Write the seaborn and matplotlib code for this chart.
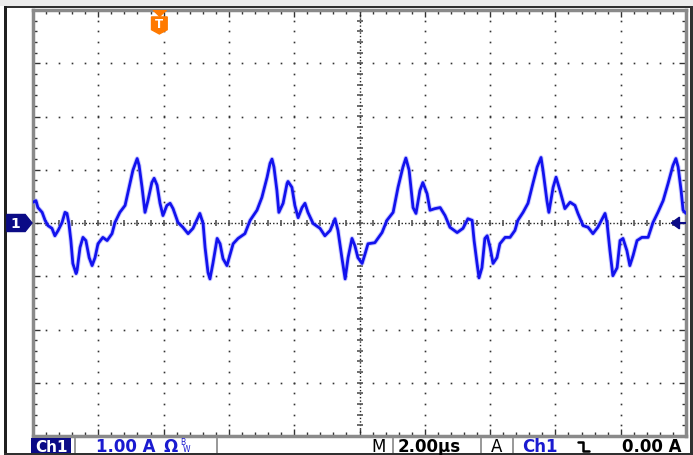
import numpy as np
import matplotlib.pyplot as plt
import seaborn as sns
from matplotlib.patches import Polygon, Rectangle
from matplotlib.ticker import MultipleLocator

sns.set_style("white")
plt.rcParams['font.family'] = ['DejaVu Sans']

# trace (time in us, current in A)
time_us = [-10.00, -9.91, -9.85, -9.72, -9.63, -9.54, -9.42, -9.33, -9.23, -9.11,
           -9.02, -8.96, -8.90, -8.84, -8.78, -8.68, -8.65, -8.56, -8.47, -8.38,
           -8.28, -8.19, -8.10, -8.01, -7.86, -7.73, -7.58, -7.49, -7.34, -7.18,
           -7.03, -6.94, -6.81, -6.75, -6.66, -6.57, -6.48, -6.36, -6.29, -6.20,
           -6.11, -6.02, -5.90, -5.80, -5.71, -5.56, -5.41, -5.25, -5.10, -4.89,
           -4.79, -4.73, -4.64, -4.58, -4.49, -4.36, -4.27, -4.18, -4.06, -3.87,
           -3.72, -3.51, -3.35, -3.14, -2.99, -2.83, -2.74, -2.68, -2.62, -2.53,
           -2.47, -2.34, -2.22, -2.19, -2.07, -1.98, -1.88, -1.76, -1.67, -1.58,
           -1.42, -1.21, -1.06, -0.90, -0.75, -0.66, -0.54, -0.44, -0.35, -0.23,
           -0.14, -0.05, 0.08, 0.17, 0.26, 0.47, 0.69, 0.84, 1.03, 1.18,
           1.33, 1.42, 1.52, 1.64, 1.73, 1.85, 1.94, 2.07, 2.16, 2.31,
           2.47, 2.62, 2.77, 2.99, 3.17, 3.32, 3.45, 3.51, 3.60, 3.66,
           3.75, 3.84, 3.91, 4.00, 4.09, 4.21, 4.30, 4.46, 4.61, 4.76,
           4.85, 5.01, 5.16, 5.31, 5.44, 5.56, 5.62, 5.74, 5.80, 5.93,
           6.02, 6.14, 6.29, 6.45, 6.60, 6.69, 6.85, 7.00, 7.15, 7.30,
           7.52, 7.58, 7.67, 7.76, 7.89, 7.98, 8.07, 8.19, 8.28, 8.38,
           8.50, 8.65, 8.84, 8.99, 9.14, 9.30, 9.45, 9.60, 9.69, 9.76,
           9.85, 9.91, 10.00]
current_a = [0.39, 0.42, 0.29, 0.20, 0.05, -0.05, -0.10, -0.24, -0.14, 0.01,
             0.20, 0.18, -0.01, -0.33, -0.76, -0.95, -0.89, -0.46, -0.27, -0.33,
             -0.65, -0.80, -0.65, -0.39, -0.27, -0.33, -0.20, 0.01, 0.20, 0.33,
             0.74, 0.99, 1.21, 1.08, 0.67, 0.20, 0.42, 0.76, 0.84, 0.71,
             0.37, 0.14, 0.33, 0.37, 0.27, 0.01, -0.08, -0.20, -0.10, 0.18,
             -0.01, -0.46, -0.93, -1.05, -0.76, -0.29, -0.39, -0.67, -0.80, -0.39,
             -0.29, -0.20, 0.05, 0.24, 0.48, 0.86, 1.12, 1.20, 1.05, 0.61,
             0.20, 0.37, 0.74, 0.78, 0.67, 0.33, 0.10, 0.29, 0.37, 0.20,
             -0.01, -0.10, -0.24, -0.14, 0.08, -0.14, -0.65, -1.05, -0.65, -0.29,
             -0.43, -0.65, -0.76, -0.58, -0.39, -0.37, -0.18, 0.05, 0.20, 0.67,
             1.05, 1.22, 0.99, 0.29, 0.18, 0.61, 0.76, 0.55, 0.24, 0.27,
             0.29, 0.14, -0.08, -0.18, -0.10, 0.08, 0.05, -0.33, -0.76, -1.03,
             -0.84, -0.29, -0.24, -0.46, -0.76, -0.65, -0.39, -0.27, -0.27, -0.14,
             0.05, 0.20, 0.37, 0.74, 1.05, 1.23, 0.99, 0.42, 0.20, 0.67,
             0.86, 0.61, 0.27, 0.39, 0.33, 0.18, -0.05, -0.08, -0.20, -0.08,
             0.18, 0.01, -0.52, -0.99, -0.84, -0.33, -0.29, -0.52, -0.80, -0.61,
             -0.33, -0.27, -0.27, 0.01, 0.20, 0.42, 0.74, 1.08, 1.21, 1.05,
             0.61, 0.24, 0.18]

# scope settings shown on screen
time_per_div = 2.0
amps_per_div = 1.0
trigger_time = -6.17
trigger_level = 0.0
status_texts = ["Ch1", "1.00 A", "M", "2.00\u00b5s", "A", "Ch1", "0.00 A"]

W, H = 693, 455
fig = plt.figure(figsize=(W / 100, H / 100), dpi=100)
fig.patch.set_facecolor('white')


def fx(px):
    return px / W


def fy(py):
    return 1 - py / H


def frect(x0, y0, x1, y1, color, z=0):
    fig.add_artist(Rectangle((fx(x0), fy(y1)), (x1 - x0) / W, (y1 - y0) / H,
                             transform=fig.transFigure, color=color, lw=0, zorder=z))


# window frame around the screen
frect(0, 0, W, 6, '#ececec')
frect(4, 6, 690, 8, '#303030')
frect(4, 6, 7, H, '#202020')
frect(690, 6, 693, H, '#303030')

ax = fig.add_axes([fx(33), fy(436), (686 - 33) / W, (436 - 10) / H])
ax.set_xlim(-5 * time_per_div, 5 * time_per_div)
ax.set_ylim(-4 * amps_per_div, 4 * amps_per_div)
ax.set_facecolor('white')

for s in ax.spines.values():
    s.set_color('#8a8a8a')
    s.set_linewidth(2.5)
ax.xaxis.set_major_locator(MultipleLocator(time_per_div))
ax.xaxis.set_minor_locator(MultipleLocator(time_per_div / 5))
ax.yaxis.set_major_locator(MultipleLocator(amps_per_div))
ax.yaxis.set_minor_locator(MultipleLocator(amps_per_div / 5))
ax.tick_params(which='both', direction='in', top=True, right=True, bottom=True, left=True,
               labelbottom=False, labelleft=False, color='#333333', width=1)
ax.tick_params(which='major', length=5)
ax.tick_params(which='minor', length=3)
ax.set_xlabel('')
ax.set_ylabel('')

# graticule dots
xs_fine = np.arange(-10, 10.001, time_per_div / 5)
ys_fine = np.arange(-4, 4.001, amps_per_div / 5)
for gx in np.arange(-8, 8.01, time_per_div):
    if abs(gx) < 1e-9:
        continue
    ax.plot(np.full_like(ys_fine, gx), ys_fine, ls='none', marker='s', ms=1.2,
            mew=0, color='#333333', zorder=1)
for gy in np.arange(-3, 3.01, amps_per_div):
    if abs(gy) < 1e-9:
        continue
    ax.plot(xs_fine, np.full_like(xs_fine, gy), ls='none', marker='s', ms=1.2,
            mew=0, color='#333333', zorder=1)

# centre cross
ax.axhline(0, color='#222222', lw=1.0, ls=(0, (1, 1.5)), zorder=1)
ax.axvline(0, color='#222222', lw=1.0, ls=(0, (1, 1.5)), zorder=1)
ax.plot(xs_fine, np.zeros_like(xs_fine), ls='none', marker='|', ms=5, mew=1.2,
        color='#555555', zorder=1)
ax.plot(np.zeros_like(ys_fine), ys_fine, ls='none', marker='_', ms=5, mew=1.2,
        color='#555555', zorder=1)

# the trace
sns.lineplot(x=time_us, y=current_a, ax=ax, color='#8c8cff', lw=3.4, alpha=0.45,
             estimator=None, sort=False, legend=False, zorder=3)
sns.lineplot(x=time_us, y=current_a, ax=ax, color='#1212ee', lw=2.0,
             estimator=None, sort=False, legend=False, zorder=4)

navy = '#0b0b86'
# channel 1 ground marker
ax.add_patch(Polygon([(-10.80, 0.16), (-10.24, 0.16), (-10.03, 0.0), (-10.24, -0.16),
                      (-10.80, -0.16)], closed=True, color=navy, clip_on=False, zorder=6))
ax.text(-10.55, -0.01, '1', color='white', fontsize=10, fontweight='bold',
        ha='center', va='center', clip_on=False, zorder=7)

# trigger level arrow on right
ax.add_patch(Polygon([(9.55, trigger_level), (9.80, trigger_level + 0.11),
                      (9.80, trigger_level - 0.11)], closed=True, color=navy, zorder=6))
ax.plot([9.75, 10.0], [trigger_level, trigger_level], color=navy, lw=1.5, zorder=6)

# trigger position marker
orange = '#ff7a00'
ax.add_patch(Polygon([(trigger_time - 0.15, 4.0), (trigger_time + 0.26, 4.0),
                      (trigger_time + 0.05, 3.88)], closed=True, color=orange, zorder=6))
ax.add_patch(Polygon([(trigger_time - 0.20, 3.87), (trigger_time + 0.28, 3.87),
                      (trigger_time + 0.28, 3.63), (trigger_time + 0.04, 3.55),
                      (trigger_time - 0.20, 3.63)], closed=True, color=orange, zorder=6))
ax.text(trigger_time + 0.04, 3.73, 'T', color='white', fontsize=8.5, fontweight='bold',
        ha='center', va='center', zorder=7)

# status bar
frect(31, 438, 71, 453, navy, z=2)
base = fy(451.5)
fs = 12
blue_txt = '#1a1ad0'
fig.text(fx(51), base, status_texts[0], color='white', fontsize=11, fontweight='bold',
         va='baseline', ha='center', zorder=3)
fig.text(fx(96), base, status_texts[1], color=blue_txt, fontsize=fs, fontweight='bold', va='baseline')
fig.text(fx(164), base, '\u03a9', color=blue_txt, fontsize=fs, fontweight='bold', va='baseline')
fig.text(fx(180), fy(445), 'B', color=blue_txt, fontsize=5.5, va='baseline')
fig.text(fx(183), fy(452), 'W', color=blue_txt, fontsize=5.5, va='baseline')
fig.text(fx(371), base, status_texts[2], color='black', fontsize=fs, va='baseline')
fig.text(fx(398), base, status_texts[3], color='black', fontsize=fs, fontweight='bold', va='baseline')
fig.text(fx(491), base, status_texts[4], color='black', fontsize=fs, va='baseline')
fig.text(fx(522), base, status_texts[5], color=blue_txt, fontsize=fs, fontweight='bold', va='baseline')
fig.add_artist(plt.Line2D([fx(578), fx(583), fx(583), fx(589)],
                          [fy(442), fy(442), fy(451), fy(451)],
                          transform=fig.transFigure, color='black', lw=1.8))
fig.text(fx(622), base, status_texts[6], color='black', fontsize=fs, fontweight='bold', va='baseline')
for sx in [74, 216, 392, 480, 512]:
    frect(sx, 438, sx + 1.5, 453, '#9a9a9a', z=2)
frect(4, 453, 693, 455, '#303030')

fig.savefig('out.png', dpi=100)
